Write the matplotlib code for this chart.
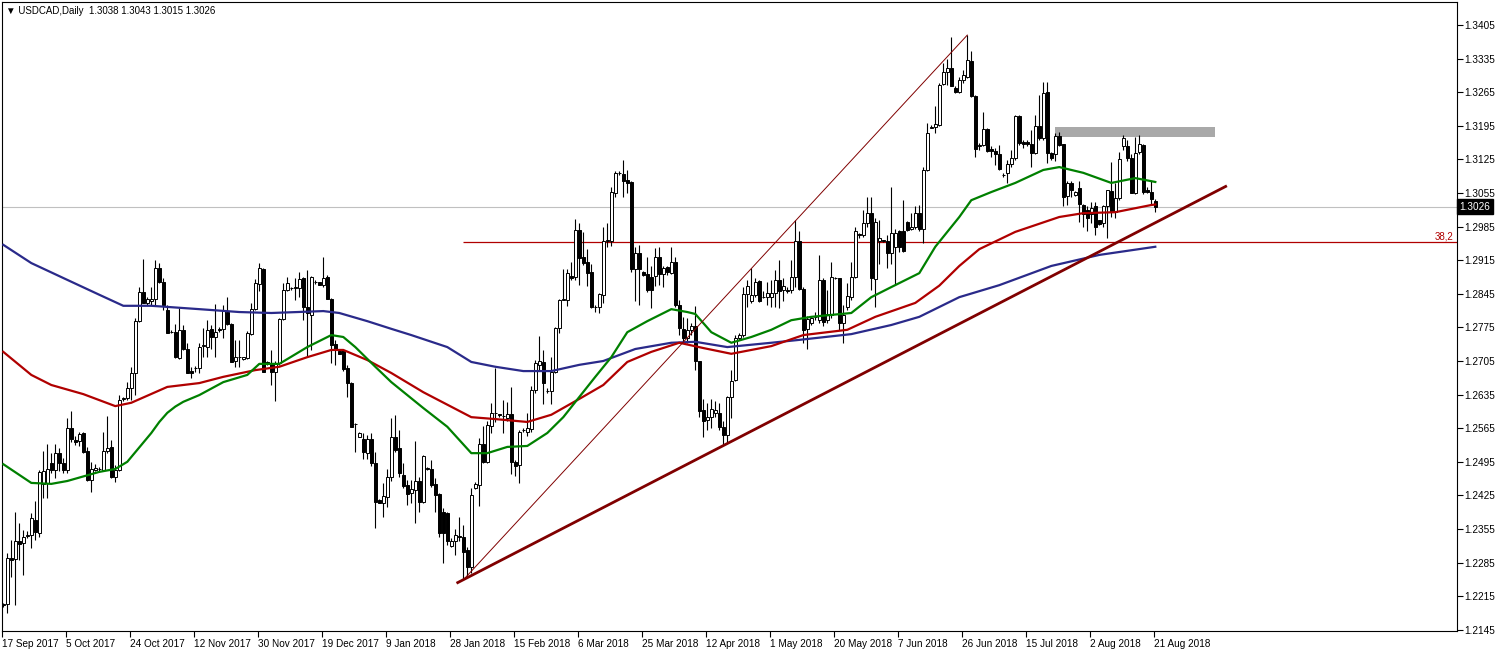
import numpy as np
import matplotlib
matplotlib.use("Agg")
import matplotlib.pyplot as plt
import matplotlib.transforms as mtransforms
from matplotlib.patches import Rectangle

plt.rcParams['font.family'] = ['Liberation Sans', 'DejaVu Sans']

# daily candles USDCAD, one value per bar
opens = [
    1.2196, 1.2198, 1.2294, 1.2292, 1.2329, 1.2325, 1.2340, 1.2343, 1.2374, 1.2346,
    1.2448, 1.2450, 1.2492, 1.2478, 1.2513, 1.2492, 1.2478, 1.2566, 1.2541, 1.2539,
    1.2554, 1.2517, 1.2457, 1.2478, 1.2480, 1.2478, 1.2518, 1.2525, 1.2464, 1.2478,
    1.2626, 1.2627, 1.2648, 1.2679, 1.2788, 1.2849, 1.2825, 1.2831, 1.2834, 1.2898,
    1.2870, 1.2811, 1.2766, 1.2765, 1.2711, 1.2770, 1.2731, 1.2684, 1.2690, 1.2690,
    1.2736, 1.2735, 1.2771, 1.2754, 1.2772, 1.2772, 1.2808, 1.2782, 1.2705, 1.2713,
    1.2709, 1.2711, 1.2761, 1.2813, 1.2866, 1.2896, 1.2703, 1.2700, 1.2682, 1.2700,
    1.2792, 1.2852, 1.2857, 1.2858, 1.2857, 1.2878, 1.2817, 1.2801, 1.2870, 1.2870,
    1.2864, 1.2881, 1.2834, 1.2741, 1.2725, 1.2728, 1.2690, 1.2660, 1.2573, 1.2547,
    1.2542, 1.2514, 1.2542, 1.2492, 1.2416, 1.2410, 1.2421, 1.2463, 1.2546, 1.2523,
    1.2468, 1.2447, 1.2429, 1.2436, 1.2455, 1.2412, 1.2481, 1.2481, 1.2448, 1.2428,
    1.2391, 1.2389, 1.2320, 1.2329, 1.2340, 1.2339, 1.2311, 1.2276, 1.2440, 1.2447,
    1.2533, 1.2495, 1.2570, 1.2596, 1.2594, 1.2591, 1.2586, 1.2594, 1.2495, 1.2488,
    1.2561, 1.2558, 1.2563, 1.2645, 1.2697, 1.2702, 1.2643, 1.2643, 1.2683, 1.2774,
    1.2833, 1.2832, 1.2882, 1.2879, 1.2978, 1.2921, 1.2912, 1.2891, 1.2818, 1.2817,
    1.2843, 1.2956, 1.2956, 1.3054, 1.3096, 1.3095, 1.3082, 1.3077, 1.2896, 1.2929,
    1.2891, 1.2886, 1.2881, 1.2882, 1.2922, 1.2886, 1.2900, 1.2889, 1.2912, 1.2822,
    1.2771, 1.2752, 1.2770, 1.2777, 1.2704, 1.2603, 1.2582, 1.2589, 1.2596, 1.2596,
    1.2568, 1.2551, 1.2629, 1.2665, 1.2752, 1.2759, 1.2845, 1.2829, 1.2843, 1.2872,
    1.2839, 1.2839, 1.2838, 1.2846, 1.2874, 1.2852, 1.2853, 1.2853, 1.2881, 1.2954,
    1.2856, 1.2771, 1.2784, 1.2796, 1.2791, 1.2874, 1.2791, 1.2801, 1.2877, 1.2877,
    1.2784, 1.2818, 1.2839, 1.2881, 1.2969, 1.2968, 1.2992, 1.3014, 1.2875, 1.2956,
    1.2957, 1.2954, 1.2929, 1.2943, 1.2975, 1.2975, 1.2995, 1.2979, 1.2985, 1.3013,
    1.2979, 1.3102, 1.3191, 1.3193, 1.3197, 1.3283, 1.3308, 1.3315, 1.3273, 1.3266,
    1.3291, 1.3297, 1.3331, 1.3257, 1.3153, 1.3155, 1.3188, 1.3146, 1.3143, 1.3137,
    1.3093, 1.3096, 1.3115, 1.3127, 1.3216, 1.3162, 1.3162, 1.3158, 1.3139, 1.3195,
    1.3169, 1.3266, 1.3139, 1.3137, 1.3173, 1.3157, 1.3049, 1.3075, 1.3051, 1.3065,
    1.3030, 1.3020, 1.3012, 1.3027, 1.2998, 1.2992, 1.3027, 1.3059, 1.3016, 1.3044,
    1.3152, 1.3152, 1.3127, 1.3054, 1.3141, 1.3155, 1.3062, 1.3058, 1.3038,
]
highs = [
    1.2201, 1.2304, 1.2332, 1.2391, 1.2368, 1.2353, 1.2351, 1.2388, 1.2413, 1.2478,
    1.2518, 1.2533, 1.2513, 1.2533, 1.2523, 1.2502, 1.2586, 1.2600, 1.2548, 1.2558,
    1.2558, 1.2526, 1.2495, 1.2490, 1.2485, 1.2558, 1.2590, 1.2540, 1.2488, 1.2634,
    1.2631, 1.2662, 1.2693, 1.2794, 1.2860, 1.2917, 1.2839, 1.2860, 1.2915, 1.2910,
    1.2877, 1.2822, 1.2770, 1.2783, 1.2815, 1.2780, 1.2742, 1.2693, 1.2695, 1.2742,
    1.2773, 1.2790, 1.2780, 1.2823, 1.2775, 1.2822, 1.2838, 1.2784, 1.2749, 1.2749,
    1.2714, 1.2768, 1.2825, 1.2875, 1.2910, 1.2898, 1.2705, 1.2728, 1.2704, 1.2794,
    1.2867, 1.2881, 1.2860, 1.2877, 1.2891, 1.2879, 1.2895, 1.2882, 1.2874, 1.2870,
    1.2922, 1.2884, 1.2836, 1.2749, 1.2728, 1.2731, 1.2697, 1.2662, 1.2576, 1.2558,
    1.2556, 1.2551, 1.2556, 1.2516, 1.2417, 1.2450, 1.2480, 1.2586, 1.2592, 1.2561,
    1.2492, 1.2457, 1.2457, 1.2539, 1.2464, 1.2509, 1.2485, 1.2499, 1.2461, 1.2429,
    1.2398, 1.2391, 1.2336, 1.2356, 1.2381, 1.2363, 1.2318, 1.2440, 1.2452, 1.2544,
    1.2570, 1.2579, 1.2618, 1.2690, 1.2595, 1.2624, 1.2620, 1.2650, 1.2499, 1.2561,
    1.2565, 1.2596, 1.2652, 1.2707, 1.2757, 1.2727, 1.2648, 1.2713, 1.2776, 1.2835,
    1.2896, 1.2896, 1.2912, 1.3000, 1.2993, 1.2974, 1.2938, 1.2908, 1.2822, 1.2847,
    1.2985, 1.2992, 1.3067, 1.3100, 1.3100, 1.3124, 1.3103, 1.3079, 1.2943, 1.2947,
    1.2893, 1.2922, 1.2902, 1.2940, 1.2942, 1.2902, 1.2902, 1.2943, 1.2922, 1.2832,
    1.2797, 1.2794, 1.2784, 1.2820, 1.2706, 1.2625, 1.2617, 1.2625, 1.2622, 1.2617,
    1.2581, 1.2632, 1.2686, 1.2759, 1.2764, 1.2860, 1.2874, 1.2898, 1.2877, 1.2874,
    1.2850, 1.2870, 1.2874, 1.2895, 1.2915, 1.2877, 1.2860, 1.2915, 1.2999, 1.2975,
    1.2860, 1.2799, 1.2797, 1.2808, 1.2926, 1.2877, 1.2853, 1.2912, 1.2879, 1.2877,
    1.2822, 1.2867, 1.2912, 1.2985, 1.2971, 1.3020, 1.3047, 1.3047, 1.3002, 1.2999,
    1.2958, 1.2968, 1.3068, 1.2979, 1.2978, 1.3041, 1.2997, 1.3013, 1.3027, 1.3030,
    1.3110, 1.3200, 1.3197, 1.3236, 1.3284, 1.3325, 1.3334, 1.3379, 1.3277, 1.3297,
    1.3311, 1.3384, 1.3350, 1.3259, 1.3159, 1.3224, 1.3190, 1.3152, 1.3148, 1.3155,
    1.3096, 1.3124, 1.3145, 1.3218, 1.3218, 1.3166, 1.3166, 1.3186, 1.3218, 1.3259,
    1.3287, 1.3287, 1.3141, 1.3180, 1.3183, 1.3158, 1.3079, 1.3079, 1.3060, 1.3079,
    1.3032, 1.3028, 1.3037, 1.3037, 1.2999, 1.3030, 1.3061, 1.3120, 1.3075, 1.3141,
    1.3176, 1.3166, 1.3137, 1.3172, 1.3176, 1.3158, 1.3068, 1.3079, 1.3043,
]
lows = [
    1.2192, 1.2179, 1.2256, 1.2197, 1.2290, 1.2259, 1.2336, 1.2315, 1.2332, 1.2338,
    1.2419, 1.2419, 1.2471, 1.2461, 1.2475, 1.2471, 1.2471, 1.2537, 1.2530, 1.2527,
    1.2513, 1.2454, 1.2433, 1.2475, 1.2475, 1.2475, 1.2513, 1.2461, 1.2452, 1.2475,
    1.2622, 1.2624, 1.2624, 1.2634, 1.2787, 1.2825, 1.2822, 1.2822, 1.2822, 1.2868,
    1.2811, 1.2763, 1.2763, 1.2711, 1.2709, 1.2728, 1.2679, 1.2669, 1.2683, 1.2679,
    1.2713, 1.2714, 1.2731, 1.2714, 1.2766, 1.2752, 1.2780, 1.2702, 1.2693, 1.2693,
    1.2707, 1.2709, 1.2759, 1.2811, 1.2850, 1.2683, 1.2697, 1.2655, 1.2622, 1.2697,
    1.2791, 1.2850, 1.2853, 1.2832, 1.2839, 1.2790, 1.2714, 1.2728, 1.2865, 1.2863,
    1.2860, 1.2834, 1.2700, 1.2697, 1.2720, 1.2685, 1.2630, 1.2567, 1.2516, 1.2546,
    1.2500, 1.2500, 1.2486, 1.2357, 1.2409, 1.2379, 1.2400, 1.2456, 1.2516, 1.2464,
    1.2440, 1.2405, 1.2409, 1.2367, 1.2391, 1.2409, 1.2478, 1.2443, 1.2391, 1.2339,
    1.2284, 1.2322, 1.2318, 1.2301, 1.2329, 1.2249, 1.2256, 1.2263, 1.2438, 1.2402,
    1.2492, 1.2493, 1.2554, 1.2577, 1.2589, 1.2554, 1.2579, 1.2470, 1.2465, 1.2450,
    1.2558, 1.2549, 1.2558, 1.2639, 1.2686, 1.2615, 1.2639, 1.2615, 1.2681, 1.2763,
    1.2832, 1.2820, 1.2874, 1.2874, 1.2863, 1.2905, 1.2861, 1.2815, 1.2808, 1.2804,
    1.2825, 1.2943, 1.2945, 1.3047, 1.3093, 1.3047, 1.3054, 1.2891, 1.2829, 1.2822,
    1.2882, 1.2849, 1.2815, 1.2861, 1.2863, 1.2860, 1.2884, 1.2886, 1.2818, 1.2759,
    1.2745, 1.2742, 1.2759, 1.2686, 1.2589, 1.2546, 1.2561, 1.2565, 1.2589, 1.2561,
    1.2530, 1.2534, 1.2586, 1.2664, 1.2749, 1.2756, 1.2818, 1.2825, 1.2839, 1.2827,
    1.2836, 1.2822, 1.2818, 1.2818, 1.2815, 1.2829, 1.2846, 1.2846, 1.2860, 1.2853,
    1.2742, 1.2729, 1.2780, 1.2791, 1.2784, 1.2777, 1.2784, 1.2794, 1.2875, 1.2770,
    1.2743, 1.2811, 1.2832, 1.2877, 1.2961, 1.2964, 1.2985, 1.2853, 1.2818, 1.2908,
    1.2952, 1.2898, 1.2908, 1.2863, 1.2933, 1.2933, 1.2975, 1.2978, 1.2981, 1.2975,
    1.2950, 1.3100, 1.3190, 1.3179, 1.3195, 1.3280, 1.3280, 1.3277, 1.3263, 1.3263,
    1.3284, 1.3294, 1.3256, 1.3131, 1.3145, 1.3152, 1.3141, 1.3131, 1.3113, 1.3103,
    1.3089, 1.3075, 1.3110, 1.3124, 1.3155, 1.3148, 1.3152, 1.3110, 1.3137, 1.3165,
    1.3165, 1.3117, 1.3124, 1.3121, 1.3152, 1.3027, 1.3030, 1.3047, 1.3049, 1.2994,
    1.2985, 1.2975, 1.2992, 1.2968, 1.2988, 1.2985, 1.2961, 1.3005, 1.3003, 1.3040,
    1.3145, 1.3121, 1.3054, 1.3053, 1.3137, 1.3053, 1.3054, 1.3030, 1.3015,
]
closes = [
    1.2199, 1.2294, 1.2290, 1.2329, 1.2324, 1.2339, 1.2342, 1.2377, 1.2348, 1.2473,
    1.2476, 1.2479, 1.2478, 1.2513, 1.2492, 1.2478, 1.2565, 1.2542, 1.2536, 1.2553,
    1.2516, 1.2457, 1.2481, 1.2483, 1.2479, 1.2518, 1.2523, 1.2463, 1.2478, 1.2624,
    1.2628, 1.2648, 1.2679, 1.2788, 1.2848, 1.2826, 1.2834, 1.2834, 1.2898, 1.2870,
    1.2822, 1.2764, 1.2766, 1.2713, 1.2770, 1.2731, 1.2681, 1.2679, 1.2691, 1.2735,
    1.2738, 1.2770, 1.2754, 1.2766, 1.2770, 1.2811, 1.2782, 1.2703, 1.2714, 1.2713,
    1.2713, 1.2763, 1.2813, 1.2867, 1.2898, 1.2683, 1.2700, 1.2683, 1.2700, 1.2792,
    1.2853, 1.2867, 1.2857, 1.2858, 1.2875, 1.2817, 1.2804, 1.2879, 1.2870, 1.2864,
    1.2877, 1.2834, 1.2738, 1.2730, 1.2720, 1.2688, 1.2660, 1.2568, 1.2573, 1.2556,
    1.2516, 1.2542, 1.2492, 1.2412, 1.2410, 1.2423, 1.2463, 1.2546, 1.2520, 1.2471,
    1.2445, 1.2428, 1.2438, 1.2455, 1.2412, 1.2507, 1.2481, 1.2447, 1.2426, 1.2347,
    1.2346, 1.2329, 1.2331, 1.2343, 1.2339, 1.2308, 1.2276, 1.2426, 1.2449, 1.2533,
    1.2495, 1.2572, 1.2597, 1.2597, 1.2592, 1.2590, 1.2594, 1.2495, 1.2486, 1.2558,
    1.2561, 1.2565, 1.2645, 1.2700, 1.2704, 1.2660, 1.2643, 1.2683, 1.2774, 1.2833,
    1.2833, 1.2888, 1.2877, 1.2978, 1.2919, 1.2910, 1.2889, 1.2817, 1.2818, 1.2845,
    1.2956, 1.2957, 1.3058, 1.3097, 1.3096, 1.3079, 1.3075, 1.2896, 1.2929, 1.2896,
    1.2884, 1.2853, 1.2853, 1.2922, 1.2886, 1.2899, 1.2891, 1.2912, 1.2822, 1.2773,
    1.2752, 1.2770, 1.2777, 1.2704, 1.2600, 1.2581, 1.2589, 1.2606, 1.2603, 1.2568,
    1.2551, 1.2629, 1.2664, 1.2752, 1.2759, 1.2845, 1.2861, 1.2843, 1.2870, 1.2831,
    1.2839, 1.2846, 1.2847, 1.2874, 1.2850, 1.2861, 1.2850, 1.2881, 1.2954, 1.2854,
    1.2770, 1.2792, 1.2794, 1.2796, 1.2874, 1.2787, 1.2803, 1.2880, 1.2877, 1.2784,
    1.2801, 1.2840, 1.2881, 1.2975, 1.2968, 1.2993, 1.3013, 1.2877, 1.2995, 1.2961,
    1.2954, 1.2929, 1.2971, 1.2971, 1.2943, 1.2935, 1.2978, 1.2985, 1.3014, 1.2979,
    1.3103, 1.3181, 1.3192, 1.3198, 1.3280, 1.3308, 1.3315, 1.3277, 1.3266, 1.3291,
    1.3301, 1.3332, 1.3257, 1.3146, 1.3154, 1.3188, 1.3143, 1.3142, 1.3136, 1.3104,
    1.3092, 1.3115, 1.3127, 1.3216, 1.3160, 1.3158, 1.3158, 1.3139, 1.3194, 1.3169,
    1.3264, 1.3139, 1.3128, 1.3173, 1.3155, 1.3047, 1.3075, 1.3061, 1.3058, 1.3032,
    1.3012, 1.3002, 1.3023, 1.2985, 1.2991, 1.3027, 1.3061, 1.3016, 1.3044, 1.3125,
    1.3169, 1.3127, 1.3054, 1.3139, 1.3157, 1.3058, 1.3058, 1.3042, 1.3026,
]

# moving averages (bar index, value)
ma_green_bars = [0, 7, 12, 16, 24, 28, 31, 34, 37, 39, 41, 43, 45, 49, 55, 61, 64, 69, 76,
                 82, 85, 88, 93, 97, 105, 111, 117, 121, 126, 131, 136, 140, 144, 148, 152,
                 156, 161, 167, 171, 173, 177, 182, 187, 192, 197, 202, 212, 217, 222, 229,
                 233, 239, 242, 247, 253, 260, 264, 270, 277, 283, 288]
ma_green_vals = [1.2490, 1.2451, 1.2449, 1.2455, 1.2474, 1.2480, 1.2495, 1.2525, 1.2555,
                 1.2578, 1.2597, 1.2610, 1.2620, 1.2634, 1.2661, 1.2676, 1.2699, 1.2699,
                 1.2734, 1.2759, 1.2755, 1.2734, 1.2693, 1.2661, 1.2607, 1.2568, 1.2513,
                 1.2513, 1.2526, 1.2528, 1.2555, 1.2588, 1.2630, 1.2672, 1.2713, 1.2765,
                 1.2788, 1.2813, 1.2807, 1.2803, 1.2765, 1.2743, 1.2755, 1.2770, 1.2790,
                 1.2797, 1.2805, 1.2838, 1.2859, 1.2888, 1.2943, 1.3005, 1.3040, 1.3057,
                 1.3076, 1.3103, 1.3109, 1.3097, 1.3076, 1.3086, 1.3078]
ma_red_bars = [0, 7, 12, 20, 28, 32, 41, 49, 55, 63, 69, 76, 82, 85, 91, 97, 105, 117,
               123, 131, 137, 144, 150, 156, 162, 169, 175, 182, 192, 200, 211, 218, 228,
               234, 239, 244, 253, 264, 270, 278, 287, 288]
ma_red_vals = [1.2724, 1.2676, 1.2655, 1.2636, 1.2611, 1.2618, 1.2651, 1.2659, 1.2672,
               1.2686, 1.2693, 1.2713, 1.2728, 1.2728, 1.2707, 1.2680, 1.2640, 1.2588,
               1.2584, 1.2578, 1.2593, 1.2626, 1.2655, 1.2703, 1.2724, 1.2743, 1.2732,
               1.2720, 1.2736, 1.2759, 1.2770, 1.2797, 1.2826, 1.2862, 1.2903, 1.2938,
               1.2974, 1.3005, 1.3013, 1.3015, 1.3030, 1.3031]
ma_navy_bars = [0, 7, 16, 24, 30, 37, 49, 59, 67, 80, 84, 91, 97, 102, 111, 117, 123,
                130, 137, 144, 150, 158, 167, 173, 181, 192, 199, 212, 222, 229, 239, 249,
                262, 274, 288]
ma_navy_vals = [1.2947, 1.2909, 1.2874, 1.2843, 1.2820, 1.2820, 1.2813, 1.2807, 1.2805,
                1.2809, 1.2805, 1.2788, 1.2772, 1.2759, 1.2734, 1.2703, 1.2693, 1.2684,
                1.2684, 1.2697, 1.2705, 1.2730, 1.2743, 1.2745, 1.2734, 1.2743, 1.2749,
                1.2761, 1.2780, 1.2797, 1.2838, 1.2863, 1.2903, 1.2926, 1.2943]

# drawn objects: (bar, price) anchors
trend_bars = [113.3, 305.9]
trend_prices = [1.2242, 1.3070]
swing_bars = [115, 241]
swing_prices = [1.2249, 1.3384]
fib_start_bar = 115
fib_level = 1.2952
fib_label = "38,2"
zone_bars = [262.9, 302.9]
zone_prices = [1.3172, 1.31925]

date_labels = ["17 Sep 2017", "5 Oct 2017", "24 Oct 2017", "12 Nov 2017", "30 Nov 2017",
               "19 Dec 2017", "9 Jan 2018", "28 Jan 2018", "15 Feb 2018", "6 Mar 2018",
               "25 Mar 2018", "12 Apr 2018", "1 May 2018", "20 May 2018", "7 Jun 2018",
               "26 Jun 2018", "15 Jul 2018", "2 Aug 2018", "21 Aug 2018"]
bars_per_label = 16

o = np.array(opens)
h = np.array(highs)
l = np.array(lows)
c = np.array(closes)
x = np.arange(len(c))

fig = plt.figure(figsize=(14.97, 6.52), dpi=100)
ax = fig.add_axes([2 / 1497, 21 / 652, 1455 / 1497, 629 / 652])

# current price line
ax.axhline(c[-1], color="#c0c0c0", lw=0.8, zorder=1)

# resistance zone
ax.add_patch(Rectangle((zone_bars[0], zone_prices[0]), zone_bars[1] - zone_bars[0],
                       zone_prices[1] - zone_prices[0], facecolor="#a9a9a9",
                       edgecolor="none", zorder=1))

# fibo 38.2 level
ax.hlines(fib_level, fib_start_bar, 400, color="#b00000", lw=0.9, zorder=1)

# candles
ax.vlines(x, l, h, color="black", lw=0.8, zorder=2)
body_low = np.minimum(o, c)
body_h = np.maximum(np.abs(c - o), 0.00002)
fill = np.where(c >= o, "white", "black")
ax.bar(x, body_h, bottom=body_low, width=0.7, color=fill, edgecolor="black",
       linewidth=0.7, zorder=3)

# moving averages
ax.plot(ma_navy_bars, ma_navy_vals, color="#2a2a8a", lw=1.6, zorder=4)
ax.plot(ma_red_bars, ma_red_vals, color="#b00000", lw=1.6, zorder=4)
ax.plot(ma_green_bars, ma_green_vals, color="#008000", lw=1.6, zorder=4)

# trend lines
ax.plot(swing_bars, swing_prices, color="#800000", lw=0.7, zorder=5)
ax.plot(trend_bars, trend_prices, color="#800000", lw=2.0, zorder=5,
        solid_capstyle="butt")

ax.set_xlim(-0.325, 363.425)
ax.set_ylim(1.21425, 1.34529)

# y axis on the right
yt = [round(1.2145 + 0.007 * k, 4) for k in range(19)]
ax.yaxis.tick_right()
ax.set_yticks(yt)
ax.set_yticklabels([f"{v:.4f}" for v in yt])

# x axis date labels
xt = [bars_per_label * k - 0.3 for k in range(len(date_labels))]
ax.set_xticks(xt)
ax.set_xticklabels(date_labels)
offset = mtransforms.ScaledTranslation(2 / 100, 0, fig.dpi_scale_trans)
for lbl in ax.get_xticklabels():
    lbl.set_horizontalalignment("left")
    lbl.set_transform(lbl.get_transform() + offset)

ax.tick_params(axis="both", direction="out", length=4, width=0.8, colors="black",
               labelsize=7.2)
ax.tick_params(axis="y", pad=1.5)
ax.tick_params(axis="x", pad=2)
for s in ax.spines.values():
    s.set_linewidth(0.8)
    s.set_color("black")

# header
hdr = (f"\u25BC USDCAD,Daily  {opens[-1]:.4f} {highs[-1]:.4f} "
       f"{lows[-1]:.4f} {closes[-1]:.4f}")
ax.text(0.003, 0.994, hdr, transform=ax.transAxes, ha="left", va="top",
        fontsize=7.0, color="black")

# fib label
ax.text(0.9973, fib_level + 0.0002, fib_label, transform=ax.get_yaxis_transform(),
        ha="right", va="bottom", fontsize=7, color="#b00000")

# bid price tag
ax.text(1.0015, c[-1], f"{c[-1]:.4f}", transform=ax.get_yaxis_transform(),
        ha="left", va="center", fontsize=7.2, color="white", zorder=10,
        bbox=dict(boxstyle="square,pad=0.25", facecolor="black", edgecolor="black"),
        clip_on=False)

fig.savefig("out.png", dpi=100, facecolor="white")
